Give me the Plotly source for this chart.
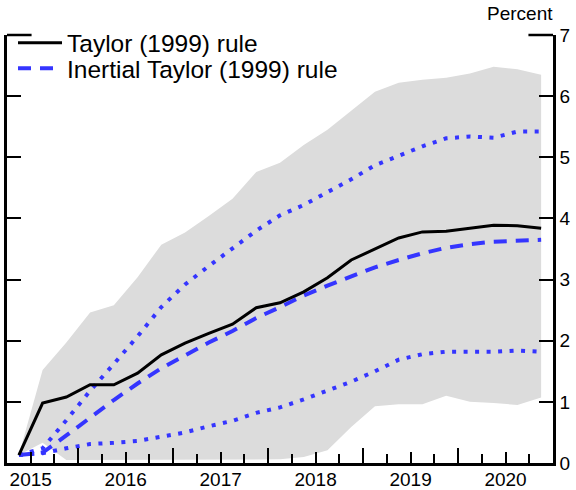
import plotly.graph_objects as go

# Quarterly data, 2015Q2 .. 2020Q4
quarters = ["2015Q2", "2015Q3", "2015Q4",
            "2016Q1", "2016Q2", "2016Q3", "2016Q4",
            "2017Q1", "2017Q2", "2017Q3", "2017Q4",
            "2018Q1", "2018Q2", "2018Q3", "2018Q4",
            "2019Q1", "2019Q2", "2019Q3", "2019Q4",
            "2020Q1", "2020Q2", "2020Q3", "2020Q4"]

taylor = [0.13, 0.98, 1.08, 1.28, 1.28, 1.47, 1.77, 1.96, 2.12, 2.27, 2.54, 2.62,
          2.80, 3.03, 3.32, 3.50, 3.68, 3.78, 3.79, 3.84, 3.89, 3.88, 3.84]
inertial = [0.13, 0.17, 0.45, 0.75, 1.03, 1.30, 1.55, 1.76, 1.97, 2.16, 2.37, 2.55,
            2.74, 2.90, 3.05, 3.20, 3.32, 3.43, 3.52, 3.58, 3.62, 3.64, 3.65]
inertial_upper = [0.13, 0.24, 0.70, 1.18, 1.62, 2.07, 2.55, 2.92, 3.22, 3.52, 3.80, 4.05,
                  4.22, 4.43, 4.64, 4.87, 5.03, 5.18, 5.31, 5.34, 5.32, 5.42, 5.42]
inertial_lower = [0.13, 0.16, 0.24, 0.31, 0.33, 0.36, 0.43, 0.50, 0.60, 0.69, 0.82, 0.91,
                  1.04, 1.19, 1.33, 1.50, 1.69, 1.78, 1.82, 1.82, 1.82, 1.84, 1.82]
band_upper = [0.13, 1.52, 1.97, 2.46, 2.58, 3.04, 3.57, 3.77, 4.04, 4.32, 4.76, 4.91,
              5.20, 5.45, 5.76, 6.07, 6.22, 6.27, 6.30, 6.37, 6.48, 6.44, 6.35]
band_lower = [0.13, 0.33, 0.05, 0.05, 0.05, 0.05, 0.05, 0.05, 0.05, 0.05, 0.05, 0.06,
              0.10, 0.21, 0.59, 0.93, 0.96, 0.96, 1.10, 1.00, 0.98, 0.95, 1.07]

year_labels = ["2015", "2016", "2017", "2018", "2019", "2020"]
y_ticks = [0, 1, 2, 3, 4, 5, 6, 7]


def q_mid(q):
    year, qq = q.split("Q")
    return int(year) + (int(qq) - 0.5) / 4.0


x = [q_mid(q) for q in quarters]
year_bounds = [int(y) + 1 for y in year_labels[:-1]]
year_mids = [int(y) + 0.5 for y in year_labels]

BLUE = "#3535FF"
GRAY = "#DCDCDC"
FONT = "Liberation Sans, Arial, sans-serif"
xrange_ = [2015.25, 2021.0]

fig = go.Figure()

# Shaded band
fig.add_trace(go.Scatter(x=x, y=band_lower, mode="lines", line=dict(width=0, color=GRAY),
                         showlegend=False, hoverinfo="skip", xaxis="x", yaxis="y"))
fig.add_trace(go.Scatter(x=x, y=band_upper, mode="lines", line=dict(width=0, color=GRAY),
                         fill="tonexty", fillcolor=GRAY, showlegend=False,
                         hoverinfo="skip", xaxis="x", yaxis="y"))

# Lines
fig.add_trace(go.Scatter(x=x, y=inertial_upper, mode="lines",
                         line=dict(color=BLUE, width=4, dash="4px,7.5px"),
                         showlegend=False, xaxis="x2", yaxis="y"))
fig.add_trace(go.Scatter(x=x, y=inertial_lower, mode="lines",
                         line=dict(color=BLUE, width=4, dash="4px,7.5px"),
                         showlegend=False, xaxis="x2", yaxis="y"))
fig.add_trace(go.Scatter(x=x, y=inertial, mode="lines", name="Inertial Taylor (1999) rule",
                         line=dict(color=BLUE, width=4, dash="13px,9px"),
                         xaxis="x2", yaxis="y", legend="legend2"))
fig.add_trace(go.Scatter(x=x, y=taylor, mode="lines", name="Taylor (1999) rule",
                         line=dict(color="black", width=3),
                         xaxis="x2", yaxis="y", legend="legend"))

legend_common = dict(x=0.011, xanchor="left", yanchor="top",
                     bgcolor="rgba(0,0,0,0)", font=dict(size=24.5),
                     itemwidth=44)

fig.update_layout(
    width=576, height=490,
    margin=dict(l=7, r=23, t=35, b=27, autoexpand=False),
    paper_bgcolor="white", plot_bgcolor="white",
    font=dict(family=FONT, size=19, color="black"),
    showlegend=True,
    legend=dict(y=1.034, **legend_common),
    legend2=dict(y=0.975, **legend_common),
    xaxis=dict(range=xrange_, showgrid=False, zeroline=False, automargin=False,
               showline=True, linecolor="black", linewidth=2.5,
               tickmode="array", tickvals=year_bounds, ticks="inside",
               ticklen=15, tickwidth=2, tickcolor="black",
               showticklabels=False,
               minor=dict(tick0=2015.25, dtick=0.25, ticks="inside",
                          ticklen=9, tickwidth=2, tickcolor="black")),
    xaxis2=dict(range=xrange_, overlaying="x", anchor="y", side="bottom",
                showgrid=False, zeroline=False, showline=False, automargin=False,
                tickmode="array", tickvals=year_mids, ticktext=year_labels,
                ticks="inside", ticklen=11, tickwidth=2, tickcolor="black",
                tickfont=dict(size=19), ticklabelstandoff=3),
    yaxis=dict(range=[0, 7], side="right", showgrid=False, zeroline=False,
               automargin=False,
               showline=True, linecolor="black", linewidth=2.5, mirror="ticks",
               tickmode="array", tickvals=y_ticks, ticks="inside",
               ticklen=14, tickwidth=2, tickcolor="black",
               tickfont=dict(size=19)),
    annotations=[dict(text="Percent", xref="paper", yref="paper", x=1.0, y=1.0,
                      xanchor="right", yanchor="bottom", yshift=9, xshift=2,
                      showarrow=False, font=dict(size=19))],
    shapes=[
        dict(type="line", xref="x domain", yref="y domain", x0=0, x1=0.045, y0=1, y1=1,
             line=dict(color="black", width=2.5)),
        dict(type="line", xref="x domain", yref="y domain", x0=0.955, x1=1, y0=1, y1=1,
             line=dict(color="black", width=2.5)),
    ],
)

fig.write_html("out.html")
